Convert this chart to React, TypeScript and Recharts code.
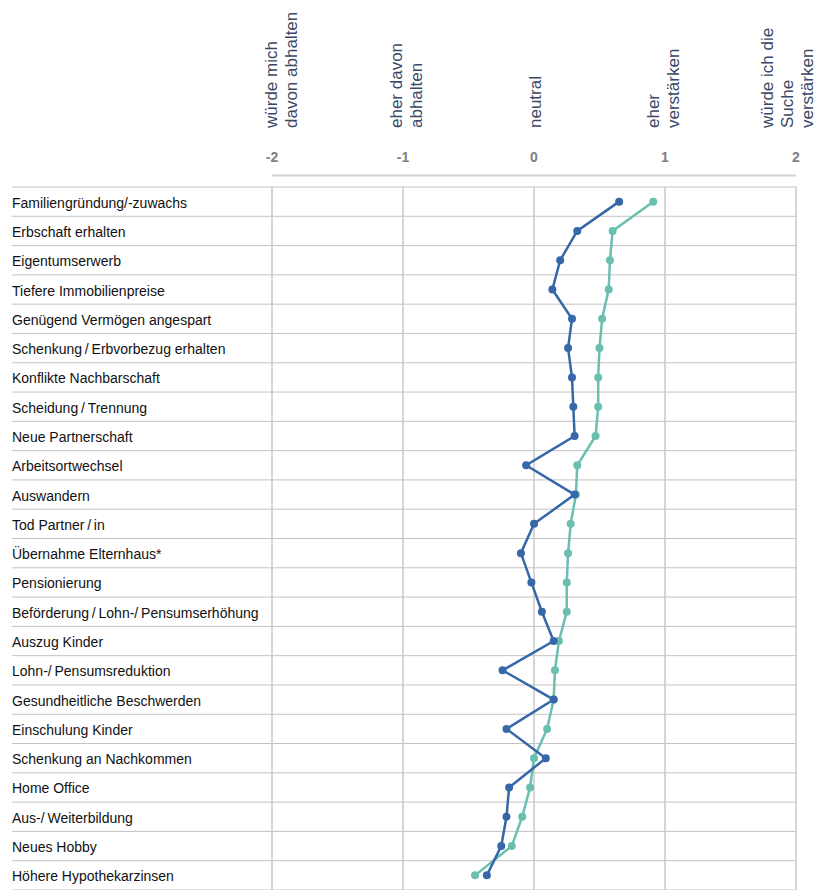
import React from 'react';
import * as Recharts from 'recharts';
import { LineChart, Line, XAxis, YAxis, CartesianGrid } from 'recharts';

// Kategorien (von oben nach unten)
const categories = [
  'Familiengründung/-zuwachs',
  'Erbschaft erhalten',
  'Eigentumserwerb',
  'Tiefere Immobilienpreise',
  'Genügend Vermögen angespart',
  'Schenkung\u2009/\u2009Erbvorbezug erhalten',
  'Konflikte Nachbarschaft',
  'Scheidung\u2009/\u2009Trennung',
  'Neue Partnerschaft',
  'Arbeitsortwechsel',
  'Auswandern',
  'Tod Partner\u2009/\u2009in',
  'Übernahme Elternhaus*',
  'Pensionierung',
  'Beförderung\u2009/\u2009Lohn-/\u2009Pensumserhöhung',
  'Auszug Kinder',
  'Lohn-/\u2009Pensumsreduktion',
  'Gesundheitliche Beschwerden',
  'Einschulung Kinder',
  'Schenkung an Nachkommen',
  'Home Office',
  'Aus-/\u2009Weiterbildung',
  'Neues Hobby',
  'Höhere Hypothekarzinsen',
];

// dunkelblaue Reihe
const serieDunkel = [
  0.65, 0.33, 0.2, 0.14, 0.29, 0.26, 0.29, 0.3, 0.31, -0.06, 0.31, 0.0,
  -0.1, -0.02, 0.06, 0.15, -0.24, 0.15, -0.21, 0.09, -0.19, -0.21, -0.25, -0.36,
];

// türkise Reihe
const serieHell = [
  0.91, 0.6, 0.58, 0.57, 0.52, 0.5, 0.49, 0.49, 0.47, 0.33, 0.32, 0.28,
  0.26, 0.25, 0.25, 0.19, 0.16, 0.15, 0.1, 0.0, -0.03, -0.09, -0.17, -0.45,
];

const xTicks = [-2, -1, 0, 1, 2];
const tickTexts = [
  ['würde mich', 'davon abhalten'],
  ['eher davon', 'abhalten'],
  ['neutral'],
  ['eher', 'verstärken'],
  ['würde ich die', 'Suche', 'verstärken'],
];
// seitliche Verschiebung der Kopftexte
const headShift = [9, 3, 1, -1.5, -9];

const data = categories.map((name, i) => ({
  name,
  dunkel: serieDunkel[i],
  hell: serieHell[i],
}));

const FONT = '"Liberation Sans", Arial, sans-serif';

const TopTick = (props: any) => {
  const { x, y, payload } = props;
  const idx = xTicks.indexOf(payload.value);
  const lines = tickTexts[idx] || [];
  const base = y - 59;
  return (
    <g>
      <text
        x={x}
        y={y - 30}
        textAnchor="middle"
        dominantBaseline="central"
        fontSize={14}
        fontWeight="bold"
        fill="#7f7f7f"
        fontFamily={FONT}
      >
        {payload.value}
      </text>
      {lines.map((l, i) => {
        const cx = x + headShift[idx] + (i - (lines.length - 1) / 2) * 20;
        return (
          <text
            key={i}
            x={cx}
            y={base}
            transform={`rotate(-90 ${cx} ${base})`}
            textAnchor="start"
            dominantBaseline="central"
            fontSize={17}
            fill="#3a4766"
            fontFamily={FONT}
          >
            {l}
          </text>
        );
      })}
    </g>
  );
};

const LeftLabel = (props: any) => {
  const { y, payload } = props;
  return (
    <text
      x={12}
      y={y + 1}
      dominantBaseline="central"
      fontSize={14}
      fill="#111"
      fontFamily={FONT}
    >
      {payload.value}
    </text>
  );
};

const TopRule = () => {
  const hook = (Recharts as any).usePlotArea;
  const area = hook ? hook() : undefined;
  if (!area) return null;
  return (
    <line
      x1={area.x}
      x2={area.x + area.width}
      y1={area.y - 11.5}
      y2={area.y - 11.5}
      stroke="#d2d2d2"
      strokeWidth={2}
    />
  );
};

export default function App() {
  const rows = categories.length;
  return (
    <div style={{ position: 'absolute', left: 0, top: 0, background: '#fff' }}>
      <LineChart
        layout="vertical"
        width={818}
        height={890}
        data={data}
        margin={{ top: 0, right: 22, bottom: 0, left: 0 }}
        style={{ fontFamily: FONT }}
      >
        <CartesianGrid
          vertical={false}
          x={12}
          width={784}
          stroke="#c3c3c3"
          horizontalCoordinatesGenerator={({ offset }: any) =>
            Array.from({ length: rows + 1 }, (_, i) => offset.top + (i * offset.height) / rows)
          }
        />
        <CartesianGrid horizontal={false} stroke="#c8c8c8" strokeWidth={1.5} />
        <XAxis
          type="number"
          orientation="top"
          domain={[-2, 2]}
          ticks={xTicks}
          interval={0}
          height={187}
          axisLine={false}
          tickLine={false}
          tickSize={0}
          tickMargin={0}
          tick={<TopTick />}
        />
        <YAxis
          type="category"
          dataKey="name"
          scale="band"
          width={272}
          interval={0}
          axisLine={false}
          tickLine={false}
          tick={<LeftLabel />}
        />
        <TopRule />
        <Line
          dataKey="hell"
          stroke="#6abfb1"
          strokeWidth={2.5}
          dot={{ r: 4, fill: '#6abfb1', stroke: 'none' }}
          isAnimationActive={false}
        />
        <Line
          dataKey="dunkel"
          stroke="#3667a8"
          strokeWidth={2.5}
          dot={{ r: 4, fill: '#3667a8', stroke: 'none' }}
          isAnimationActive={false}
        />
      </LineChart>
    </div>
  );
}
